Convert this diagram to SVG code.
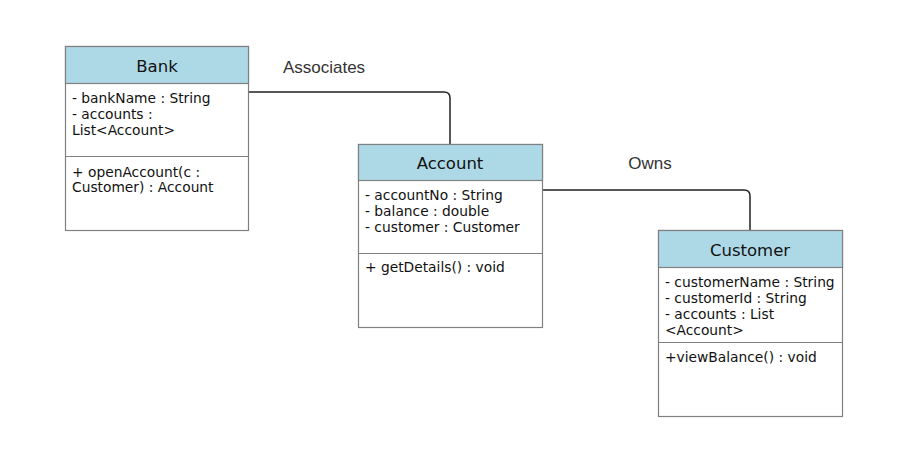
<svg xmlns="http://www.w3.org/2000/svg" width="907" height="459" viewBox="0 0 907 459">
<style>
.box{fill:#ffffff;stroke:#808080;stroke-width:1.2}
.hdr{fill:#add8e6;stroke:#808080;stroke-width:1.2}
.div{stroke:#808080;stroke-width:1.2}
.title{font-family:"DejaVu Sans",Verdana,sans-serif;font-size:16.5px;fill:#111;text-anchor:middle}
.t{font-family:"DejaVu Sans",Verdana,sans-serif;font-size:13.8px;fill:#111}
.lbl{font-family:"Liberation Sans",Arial,sans-serif;font-size:17px;fill:#333;text-anchor:middle}
.conn{fill:none;stroke:#222;stroke-width:1.5}
</style>
<rect width="907" height="459" fill="#ffffff"/>
<g id="connectors">
<path class="conn" d="M249,92 H444 Q450,92 450,98 V144"/>
<path class="conn" d="M543,190 H744 Q750,190 750,196 V230"/>
<text class="lbl" x="324" y="73">Associates</text>
<text class="lbl" x="650" y="169">Owns</text>
</g>
<g id="Bank">
<rect class="box" x="65.5" y="46.5" width="183" height="184"/>
<rect class="hdr" x="65.5" y="46.5" width="183" height="37"/>
<line class="div" x1="65.5" y1="156.5" x2="248.5" y2="156.5"/>
<text class="title" x="157" y="72">Bank</text>
<text class="t" x="72" y="103">- bankName : String</text>
<text class="t" x="72" y="119">- accounts :</text>
<text class="t" x="72" y="135">List&lt;Account&gt;</text>
<text class="t" x="72" y="177">+ openAccount(c :</text>
<text class="t" x="72" y="192">Customer) : Account</text>
</g>
<g id="Account">
<rect class="box" x="358.5" y="144.5" width="184" height="183"/>
<rect class="hdr" x="358.5" y="144.5" width="184" height="36"/>
<line class="div" x1="358.5" y1="253.5" x2="542.5" y2="253.5"/>
<text class="title" x="450" y="169">Account</text>
<text class="t" x="365" y="200">- accountNo : String</text>
<text class="t" x="365" y="216">- balance : double</text>
<text class="t" x="365" y="232">- customer : Customer</text>
<text class="t" x="365" y="272">+ getDetails() : void</text>
</g>
<g id="Customer">
<rect class="box" x="658.5" y="230.5" width="184" height="186"/>
<rect class="hdr" x="658.5" y="230.5" width="184" height="37"/>
<line class="div" x1="658.5" y1="342.5" x2="842.5" y2="342.5"/>
<text class="title" x="750" y="256">Customer</text>
<text class="t" x="665" y="287">- customerName : String</text>
<text class="t" x="665" y="303">- customerId : String</text>
<text class="t" x="665" y="319">- accounts : List</text>
<text class="t" x="665" y="335">&lt;Account&gt;</text>
<text class="t" x="665" y="362">+viewBalance() : void</text>
</g>
</svg>
